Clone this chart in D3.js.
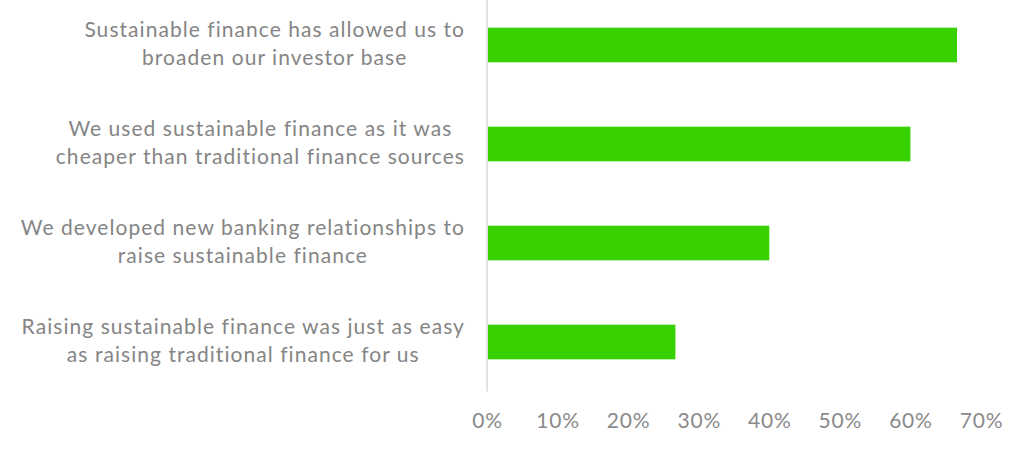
<!DOCTYPE html>
<html><head><meta charset="utf-8">
<script src="https://cdn.jsdelivr.net/npm/d3@7"></script>
<style>
html,body{margin:0;padding:0;background:#fff;}
svg text{font-family:Lato, "Open Sans", sans-serif;}
</style></head>
<body>
<svg id="chart" width="1024" height="450"></svg>
<script>
const categories = [
  ["Sustainable finance has allowed us to", "broaden our investor base"],
  ["We used sustainable finance as it was", "cheaper than traditional finance sources"],
  ["We developed new banking relationships to", "raise sustainable finance"],
  ["Raising sustainable finance was just as easy", "as raising traditional finance for us"]
];
const values = [0.666, 0.60, 0.40, 0.267];
const tickValues = [0, 0.1, 0.2, 0.3, 0.4, 0.5, 0.6, 0.7];

const svg = d3.select("#chart");
const x = d3.scaleLinear().domain([0, 0.7]).range([487, 981]);
const y = d3.scaleBand().domain(d3.range(categories.length)).range([-4.5, 391.5])
  .paddingInner(0.65).paddingOuter(0.325);

// vertical axis line
svg.append("line").attr("x1", x(0)).attr("x2", x(0)).attr("y1", 0).attr("y2", y.range()[1])
  .attr("stroke", "#d9d9d9").attr("stroke-width", 1.5);

// bars
svg.selectAll("rect.bar").data(values).join("rect").attr("class", "bar")
  .attr("x", x(0) + 1).attr("y", (d, i) => y(i))
  .attr("width", d => x(d) - x(0) - 1).attr("height", y.bandwidth())
  .attr("fill", "#38d100");

// category labels (block right-aligned, lines centered)
const labelRight = 465;
categories.forEach((lines, i) => {
  const g = svg.append("g");
  const cy = y(i) + y.bandwidth() / 2 - 3;
  const texts = lines.map((t, j) => g.append("text").text(t)
    .attr("font-size", 21).attr("fill", "#858585")
    .attr("letter-spacing", 1.05)
    .attr("text-anchor", "middle")
    .attr("dominant-baseline", "central")
    .attr("y", cy + (j - (lines.length - 1) / 2) * 28));
  const maxW = d3.max(texts, t => t.node().getComputedTextLength());
  texts.forEach(t => t.attr("x", labelRight - maxW / 2));
});

// x axis tick labels
const xAxis = d3.axisBottom(x).tickValues(tickValues).tickFormat(d3.format(".0%")).tickSize(0).tickPadding(0);
const ax = svg.append("g").attr("transform", "translate(0,413)").call(xAxis);
ax.select(".domain").remove();
ax.selectAll("text").attr("font-size", 21).attr("fill", "#8a8a8a")
  .attr("letter-spacing", 0.8)
  .attr("font-family", "Lato, 'Open Sans', sans-serif");
</script>
</body></html>
